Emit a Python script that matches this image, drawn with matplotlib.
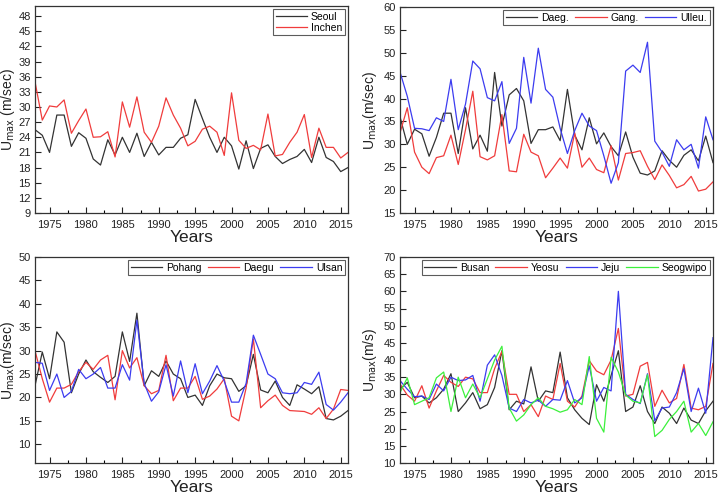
import numpy as np
import matplotlib
matplotlib.use("Agg")
import matplotlib.pyplot as plt
from matplotlib.ticker import MultipleLocator

plt.rcParams['font.family'] = ['Liberation Sans', 'DejaVu Sans']

years = list(range(1973, 2017))

# Panel 1
seoul = [25.5, 24.4, 21.0, 28.4, 28.4, 22.2, 24.9, 23.8, 19.7, 18.5,
         23.5, 20.5, 24.0, 21.0, 24.8, 20.2, 23.0, 20.5, 22.0, 22.0,
         23.8, 24.5, 31.5, 27.7, 24.0, 21.0, 24.0, 22.3, 17.7, 23.3,
         17.8, 21.8, 22.5, 20.2, 18.8, 19.6, 20.2, 21.6, 19.0, 24.0,
         20.0, 19.2, 17.2, 18.0]
inchen = [35.0, 27.4, 30.2, 30.0, 31.4, 24.8, 27.3, 29.6, 24.0, 24.1,
          25.1, 20.1, 31.0, 26.0, 32.0, 25.0, 23.0, 26.2, 31.8, 28.4,
          25.8, 22.3, 23.2, 25.6, 26.2, 25.0, 20.4, 32.8, 23.4, 21.8,
          22.4, 21.5, 28.6, 20.3, 20.6, 23.0, 25.0, 28.5, 20.0, 25.8,
          22.0, 22.0, 19.9, 21.0]

# Panel 2
daeg = [36.0, 30.0, 33.3, 32.3, 27.4, 31.5, 36.8, 36.8, 28.0, 38.0,
        29.0, 32.0, 28.5, 45.7, 34.0, 40.8, 42.2, 39.5, 30.2, 33.2,
        33.2, 33.8, 30.8, 42.0, 32.0, 28.8, 35.8, 30.1, 32.5, 29.5,
        27.5, 32.7, 27.2, 23.7, 23.3, 24.2, 28.6, 26.5, 25.0, 27.6,
        28.8, 26.4, 31.8, 26.0]
gang = [32.5, 38.0, 28.3, 25.0, 23.6, 27.1, 27.5, 32.0, 25.6, 33.2,
        41.6, 27.3, 26.6, 27.5, 36.5, 24.2, 24.0, 32.2, 28.3, 27.5,
        22.7, 24.8, 27.0, 24.8, 32.5, 25.0, 27.0, 24.5, 23.8, 29.7,
        22.2, 28.0, 28.2, 28.6, 25.2, 22.3, 25.5, 23.2, 20.5, 21.2,
        23.0, 19.8, 20.2, 21.8]
ulleu = [45.8, 40.5, 33.5, 33.4, 33.0, 35.8, 35.0, 44.2, 33.2, 38.8,
         48.2, 46.5, 40.2, 39.5, 43.7, 30.2, 33.5, 49.0, 39.0, 51.0,
         42.0, 40.3, 33.5, 28.0, 33.0, 36.8, 34.0, 33.0, 27.5, 21.5,
         26.0, 46.0, 47.3, 45.7, 52.3, 30.7, 28.3, 25.2, 31.0, 28.8,
         30.0, 24.8, 36.0, 31.0]

# Panel 3
pohang = [22.5, 29.7, 24.0, 34.0, 31.8, 21.0, 25.0, 28.0, 25.5, 24.3,
          23.2, 24.5, 34.0, 27.7, 38.0, 22.5, 25.7, 24.5, 27.8, 25.0,
          24.0, 20.0, 20.5, 18.3, 22.5, 25.0, 24.2, 24.0, 21.3, 22.5,
          29.2, 21.6, 21.0, 23.5, 20.0, 18.3, 22.7, 21.8, 20.8, 22.3,
          15.5, 15.2, 16.0, 17.2]
daegu = [30.0, 24.0, 19.0, 22.0, 22.0, 22.8, 25.5, 27.5, 26.0, 28.0,
         29.0, 19.5, 30.0, 26.3, 28.5, 22.5, 20.8, 21.5, 29.0, 19.3,
         22.0, 22.0, 24.5, 19.6, 20.3, 21.8, 24.0, 16.0, 15.0, 22.0,
         32.5, 17.8, 19.3, 20.5, 18.3, 17.2, 17.1, 17.0, 16.4, 17.8,
         15.5, 17.5, 21.7, 21.5]
ulsan = [27.5, 27.3, 21.5, 25.0, 20.0, 21.3, 26.0, 24.0, 25.0, 26.4,
         22.0, 22.0, 27.0, 23.7, 36.5, 23.0, 19.2, 21.2, 27.0, 20.3,
         27.8, 21.0, 27.2, 20.8, 23.5, 26.8, 23.5, 19.0, 19.0, 23.0,
         33.3, 29.2, 25.0, 24.0, 21.0, 20.8, 21.0, 23.2, 22.8, 25.4,
         18.5, 17.3, 19.0, 21.0]

# Panel 4
busan = [31.5, 33.5, 29.0, 29.5, 27.5, 29.0, 31.5, 36.0, 25.0, 27.5,
         30.5, 25.8, 27.0, 32.0, 42.7, 25.5, 28.0, 27.2, 38.0, 28.0,
         31.0, 30.5, 42.3, 29.0, 25.5, 23.0, 21.2, 32.8, 28.0, 35.5,
         42.7, 25.0, 26.3, 32.5, 25.0, 21.5, 26.3, 24.5, 21.5, 26.0,
         22.5, 21.5, 25.2, 28.0]
yeosu = [33.0, 29.8, 28.0, 32.5, 26.0, 31.0, 35.5, 33.5, 32.3, 35.0,
         34.5, 30.5, 30.5, 37.5, 42.5, 30.0, 30.0, 25.0, 27.0, 23.5,
         29.5, 28.5, 39.0, 28.0, 26.3, 29.5, 39.8, 36.8, 35.7, 40.0,
         49.2, 29.5, 30.0, 38.2, 39.3, 26.5, 31.2, 27.5, 28.8, 38.7,
         26.0, 25.5, 26.5, 39.0]
jeju = [34.0, 31.5, 29.3, 29.5, 28.5, 33.0, 31.0, 35.0, 34.0, 34.2,
        35.5, 28.0, 38.5, 41.5, 35.5, 26.0, 25.0, 28.5, 27.5, 28.3,
        26.5, 28.5, 28.3, 34.0, 27.5, 29.0, 38.3, 28.0, 32.0, 31.0,
        60.0, 30.0, 28.5, 27.3, 36.0, 22.3, 26.0, 26.3, 30.5, 37.5,
        25.0, 31.8, 24.5, 46.5]
seogwipo = [30.5, 34.8, 27.0, 28.0, 29.0, 34.8, 36.5, 25.0, 35.0, 29.0,
            33.0, 29.0, 34.5, 40.0, 44.0, 26.0, 22.2, 24.0, 27.0, 29.0,
            26.5, 25.8, 24.8, 25.5, 28.5, 27.0, 41.0, 23.0, 19.0, 40.8,
            36.5, 29.8, 28.0, 27.5, 35.7, 17.7, 19.5, 22.7, 25.0, 28.0,
            19.0, 21.5, 18.0, 22.0]

BLACK, RED, BLUE, GREEN = '#333333', '#f03c3c', '#3c3cf0', '#3cf03c'

fig = plt.figure(figsize=(7.21, 4.97), dpi=100)
W, H = 721, 497
boxes = [(35, 6, 313, 207), (400, 7, 313, 206),
         (35, 257, 313, 206), (400, 257, 313, 206)]
label_x = [8, 370, 8, 370]  # figure px for the rotated y labels
axes = [fig.add_axes([x / W, 1 - (y + h) / H, w / W, h / H]) for x, y, w, h in boxes]

panels = [
    ([seoul, inchen], ['Seoul', 'Inchen'], [BLACK, RED], (9, 50), 3, 9, 48,
     r'U$_{\rm max}$ (m/sec)', 1),
    ([daeg, gang, ulleu], ['Daeg.', 'Gang.', 'Ulleu.'], [BLACK, RED, BLUE], (15, 60), 5, 15, 60,
     r'U$_{\rm max}$(m/sec)', 3),
    ([pohang, daegu, ulsan], ['Pohang', 'Daegu', 'Ulsan'], [BLACK, RED, BLUE], (6, 50), 5, 10, 50,
     r'U$_{\rm max}$(m/sec)', 3),
    ([busan, yeosu, jeju, seogwipo], ['Busan', 'Yeosu', 'Jeju', 'Seogwipo'],
     [BLACK, RED, BLUE, GREEN], (10, 70), 5, 10, 70, r'U$_{\rm max}$(m/s)', 4),
]

for ax, box, lx, (series, names, colors, ylim, step, y0, y1, ylab, ncol) in zip(axes, boxes, label_x, panels):
    for s, n, c in zip(series, names, colors):
        ax.plot(years, s, color=c, lw=0.9, label=n)
    ax.set_xlim(1973, 2016)
    ax.set_ylim(*ylim)
    ax.set_yticks(np.arange(y0, y1 + 0.1, step))
    ax.set_xticks(range(1975, 2016, 5))
    ax.xaxis.set_minor_locator(MultipleLocator(2.5))
    ax.tick_params(axis='both', which='major', direction='in', length=4,
                   width=0.8, labelsize=8, colors='#222222', pad=3)
    ax.tick_params(axis='x', which='major', pad=5)
    ax.tick_params(axis='x', which='minor', direction='in', length=2.5, width=0.8)
    for sp in ax.spines.values():
        sp.set_linewidth(0.9)
        sp.set_color('#333333')
    x, y, w, h = box
    ax.set_xlabel('Years', fontsize=12.5, color='#222222', va='center')
    ax.xaxis.set_label_coords(0.5, -24 / h)
    ax.set_ylabel(ylab, fontsize=10, color='#222222', va='center')
    ax.yaxis.set_label_coords((lx - x) / w, 0.5)
    leg = ax.legend(loc='upper right', ncol=ncol, fontsize=7.5, frameon=True,
                    fancybox=False, edgecolor='#333333', borderpad=0.25,
                    handlelength=3.0, handletextpad=0.4, columnspacing=0.6,
                    labelspacing=0.1, borderaxespad=0.3)
    leg.get_frame().set_linewidth(0.8)

fig.savefig('out.png', dpi=100)
